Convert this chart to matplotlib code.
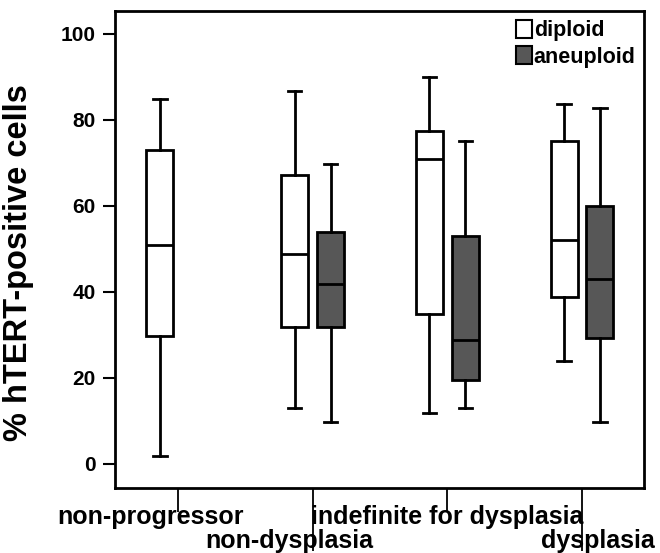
import matplotlib
matplotlib.use('Agg')
import matplotlib.pyplot as plt
from matplotlib.patches import Patch

plt.rcParams['font.family'] = ['Liberation Sans', 'DejaVu Sans']
plt.rcParams['font.weight'] = 'bold'

categories = ['non-progressor', 'non-dysplasia', 'indefinite for dysplasia', 'dysplasia']

# diploid: whislo, q1, med, q3, whishi
dip_whislo = [1.9, 12.9, 11.8, 23.9]
dip_q1 = [29.7, 31.9, 34.8, 38.8]
dip_med = [50.8, 48.9, 71.0, 52.0]
dip_q3 = [72.9, 67.1, 77.3, 75.0]
dip_whishi = [84.8, 86.8, 90.0, 83.8]

# aneuploid (no non-progressor group)
an_whislo = [None, 9.8, 12.9, 9.8]
an_q1 = [None, 31.9, 19.5, 29.3]
an_med = [None, 41.8, 28.8, 42.9]
an_q3 = [None, 53.9, 52.9, 59.9]
an_whishi = [None, 69.8, 75.0, 82.8]

dark = '#575757'
lw = 2.0

fig = plt.figure(figsize=(6.6, 5.53), dpi=100)
ax = fig.add_axes([0.174, 0.1175, 0.802, 0.8625])

offset = 0.133
width = 0.2

def stats(lo, q1, med, q3, hi):
    return dict(whislo=lo, q1=q1, med=med, q3=q3, whishi=hi, fliers=[])

dip_stats, dip_pos = [], []
an_stats, an_pos = [], []
for i in range(len(categories)):
    dip_stats.append(stats(dip_whislo[i], dip_q1[i], dip_med[i], dip_q3[i], dip_whishi[i]))
    dip_pos.append(i + 1 - offset)
    if an_med[i] is not None:
        an_stats.append(stats(an_whislo[i], an_q1[i], an_med[i], an_q3[i], an_whishi[i]))
        an_pos.append(i + 1 + offset)

for st, pos, fc in [(dip_stats, dip_pos, 'white'), (an_stats, an_pos, dark)]:
    ax.bxp(st, positions=pos, widths=width, patch_artist=True, showfliers=False,
           boxprops=dict(facecolor=fc, edgecolor='black', linewidth=lw),
           medianprops=dict(color='black', linewidth=lw),
           whiskerprops=dict(color='black', linewidth=lw),
           capprops=dict(color='black', linewidth=lw),
           capwidths=width / 2)

ax.set_xlim(0.532, 4.461)
ax.set_ylim(-5.6, 105.3)
ax.set_yticks([0, 20, 40, 60, 80, 100])
ax.tick_params(axis='y', labelsize=15, width=1.5, length=9, pad=5)
for lab in ax.get_yticklabels():
    lab.set_fontweight('bold')
ax.set_ylabel('% hTERT-positive cells', fontsize=23.5, fontweight='bold')
ax.yaxis.set_label_coords(-0.153, 0.472)

# staggered category ticks
ax.set_xticks([2, 4])
ax.set_xticks([1, 3], minor=True)
ax.set_xticklabels([])
ax.tick_params(axis='x', which='major', length=45, width=1.3)
ax.tick_params(axis='x', which='minor', length=17, width=1.3)

trans = ax.get_xaxis_transform()
label_pos = [(0.80, -0.061), (1.83, -0.111), (3.0, -0.061), (4.12, -0.111)]
for name, (x, y) in zip(categories, label_pos):
    ax.text(x, y, name, transform=trans, ha='center', va='center',
            fontsize=18, fontweight='bold')

for sp in ax.spines.values():
    sp.set_linewidth(2.0)

handles = [Patch(facecolor='white', edgecolor='black', linewidth=1.5, label='diploid'),
           Patch(facecolor=dark, edgecolor='black', linewidth=1.5, label='aneuploid')]
ax.legend(handles=handles, loc='upper right', frameon=False,
          handlelength=0.7, handleheight=0.9, handletextpad=0.1,
          labelspacing=0.25, borderaxespad=0.0, prop={'weight': 'bold', 'size': 15.5})

fig.savefig('out.png', dpi=100)
